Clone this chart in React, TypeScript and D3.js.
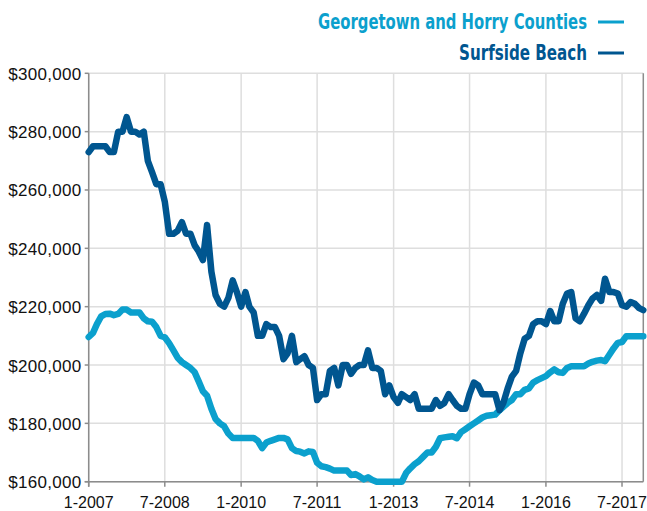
import React from "react";
import * as d3 from "d3";

const seriesNames = ["Georgetown and Horry Counties", "Surfside Beach"];
const seriesColors = ["#0ba0cd", "#005690"];

// Monthly values, Jan 2007 - Dec 2017 (thousands of dollars)
const georgetownHorry = [
  209.6, 211, 214, 216.7, 217.5, 217.6, 217.1, 217.5, 219, 219, 218, 218,
  218, 216, 215, 214.8, 213, 210, 209.5, 207.5, 205, 202.5, 201, 200,
  199, 197.5, 194.5, 191, 189.5, 185, 181.5, 180, 179, 176.5, 175, 175,
  175, 175, 175, 175, 174, 171.5, 173.4, 174, 174.5, 175, 175, 174.5,
  171.5, 170.5, 170.3, 169.7, 170.4, 170.2, 166.5, 165.3, 165, 164.5, 163.8, 163.8,
  163.8, 163.8, 162.3, 162.6, 161.8, 160.8, 161.5, 160.6, 160, 160, 160, 160,
  160, 160, 160, 163, 164.6, 166, 167, 168.5, 170, 170, 172, 174.9,
  175.2, 175.4, 175.6, 174.9, 177, 178, 179, 180, 181, 182, 182.6, 182.8,
  183, 184.5, 185.7, 187, 188, 190, 190, 191.5, 192, 194, 194.8, 195.5,
  196.2, 197.5, 198.5, 197.5, 197.3, 199, 199.6, 199.6, 199.6, 199.6, 200.5, 201.1,
  201.5, 201.7, 201.3, 203.5, 205.7, 207.6, 207.9, 209.9, 209.9, 209.9, 209.9, 209.9,
];

const surfsideBeach = [
  273, 275, 275, 275, 275, 273, 273, 280, 280, 285, 280, 280,
  279, 280, 270, 266, 262, 262, 256, 245, 245, 246, 249, 245,
  245, 241, 239, 236, 248, 232, 224, 221, 220, 223, 229, 225,
  220, 225, 220, 218, 210, 210, 214, 213, 213, 210, 202, 204,
  210, 201, 202, 203, 200, 199, 188, 190, 190, 198, 199, 193,
  200, 200, 197, 199, 200, 200, 205, 199, 199, 198, 190, 193,
  189, 187, 190, 189, 188, 190, 185, 185, 185, 185, 188, 186,
  187, 190, 188, 186, 185, 185, 190, 194, 193, 190, 190, 190,
  190, 184.5, 187, 192, 196, 198, 204, 209, 210, 214, 215, 215,
  214, 218.5, 215, 215, 221, 224.5, 225, 216, 215, 217.6, 220.5, 222.8,
  224, 222, 229.6, 225, 225, 224.5, 220.5, 220, 221.6, 221, 219.5, 218.8,
];

const yTicks = [160000, 180000, 200000, 220000, 240000, 260000, 280000, 300000];
const xTickLabels = ["1-2007", "7-2008", "1-2010", "7-2011", "1-2013", "7-2014", "1-2016", "7-2017"];

const W = 647;
const H = 511;
const left = 88.7;
const right = 643.3;
const top = 73.3;
const bottom = 481.7;

export default function App() {
  const start = new Date(2007, 0, 1);
  const dates = georgetownHorry.map((_, i) => new Date(2007, i, 1));
  const x = d3.scaleTime().domain([start, dates[dates.length - 1]]).range([left, right]);
  const y = d3.scaleLinear().domain([160000, 300000]).range([bottom, top]);

  const xTickDates = xTickLabels.map((l) => {
    const [m, yr] = l.split("-").map(Number);
    return new Date(yr, m - 1, 1);
  });

  const line = d3
    .line<number>()
    .x((_, i) => x(dates[i]))
    .y((d) => y(d * 1000))
    .curve(d3.curveLinear);

  const fmt = d3.format(",");
  const axisColor = "#8c8c8c";
  const gridColor = "#dedede";
  const labelFont = "'Liberation Sans', Arial, Helvetica, sans-serif";
  const legendFont = "'Liberation Sans Narrow', 'DejaVu Sans Condensed', 'Liberation Sans', sans-serif";

  const legendRows = [
    { name: seriesNames[0], color: seriesColors[0], y: 29, len: 269 },
    { name: seriesNames[1], color: seriesColors[1], y: 60, len: 128 },
  ];

  return (
    <svg
      width={W}
      height={H}
      style={{ position: "absolute", left: 0, top: 0, background: "#fff" }}
    >
      {/* grid */}
      {yTicks.map((t) => (
        <line key={"gy" + t} x1={left} x2={right} y1={y(t)} y2={y(t)} stroke={gridColor} strokeWidth={1.5} />
      ))}
      {xTickDates.map((d, i) => (
        <line key={"gx" + i} x1={x(d)} x2={x(d)} y1={top} y2={bottom} stroke={gridColor} strokeWidth={1.5} />
      ))}

      {/* axes */}
      <line x1={left} x2={left} y1={top} y2={bottom + 5} stroke={axisColor} strokeWidth={1.5} />
      <line x1={right} x2={right} y1={top} y2={bottom} stroke={axisColor} strokeWidth={1.5} />
      <line x1={left - 4} x2={right} y1={bottom} y2={bottom} stroke={axisColor} strokeWidth={1.5} />
      {yTicks.map((t) => (
        <line key={"ty" + t} x1={left - 4} x2={left} y1={y(t)} y2={y(t)} stroke={axisColor} strokeWidth={1.5} />
      ))}
      {xTickDates.map((d, i) => (
        <line key={"tx" + i} x1={x(d)} x2={x(d)} y1={bottom} y2={bottom + 5} stroke={axisColor} strokeWidth={1.5} />
      ))}

      {/* y labels */}
      {yTicks.map((t) => (
        <text
          key={"ly" + t}
          x={81.5}
          y={y(t) + 6.5}
          textAnchor="end"
          fontFamily={labelFont}
          fontSize={17}
          letterSpacing={0.3}
          fill="#111"
        >
          {"$" + fmt(t)}
        </text>
      ))}

      {/* x labels */}
      {xTickDates.map((d, i) => (
        <text
          key={"lx" + i}
          x={x(d)}
          y={508}
          textAnchor="middle"
          fontFamily={labelFont}
          fontSize={16}
          fill="#111"
        >
          {xTickLabels[i]}
        </text>
      ))}

      {/* lines */}
      <path
        d={line(georgetownHorry) || ""}
        fill="none"
        stroke={seriesColors[0]}
        strokeWidth={6.5}
        strokeLinejoin="round"
        strokeLinecap="round"
      />
      <path
        d={line(surfsideBeach) || ""}
        fill="none"
        stroke={seriesColors[1]}
        strokeWidth={6.5}
        strokeLinejoin="round"
        strokeLinecap="round"
      />

      {/* legend */}
      {legendRows.map((r) => (
        <g key={r.name}>
          <text
            x={587}
            y={r.y}
            textAnchor="end"
            fontFamily={legendFont}
            fontWeight="bold"
            fontSize={21}
            fill={r.color}
            textLength={r.len}
            lengthAdjust="spacingAndGlyphs"
          >
            {r.name}
          </text>
          <line x1={598} x2={624} y1={r.y - 7} y2={r.y - 7} stroke={r.color} strokeWidth={3} />
        </g>
      ))}
    </svg>
  );
}
